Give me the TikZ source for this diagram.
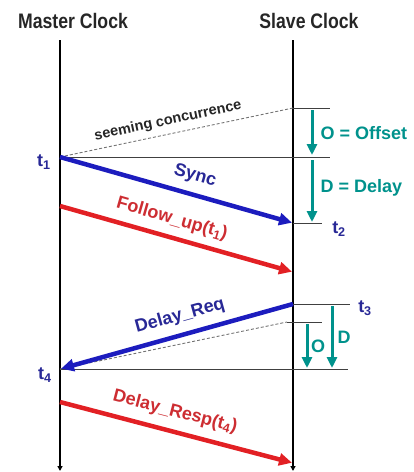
\documentclass[tikz,border=0pt]{standalone}
\usepackage{fontspec}
\setmainfont{Liberation Sans}
\newfontfamily\headfont[FakeStretch=0.84]{Liberation Sans}
\usetikzlibrary{arrows.meta}

\definecolor{msgblue}{RGB}{28,28,190}
\definecolor{msgred}{RGB}{226,32,36}
\definecolor{txtblue}{RGB}{40,40,150}
\definecolor{txtred}{RGB}{205,45,50}
\definecolor{teal}{RGB}{0,146,140}

\tikzset{
	clockline/.style = {line width=1.6pt, -{Triangle[length=5pt,width=5pt]}},
	bluemsg/.style = {line width=4.5pt, msgblue, -{Triangle[length=13pt,width=12pt]}, shorten >=1pt},
	redmsg/.style = {line width=4.5pt, msgred, -{Triangle[length=13pt,width=12pt]}, shorten >=1pt},
	tealarrow/.style = {line width=3pt, teal, -{Triangle[length=11pt,width=10pt]}},
	mark line/.style = {line width=.8pt, black!75},
	seemline/.style = {line width=.9pt, black!55, dash pattern=on 3pt off 2pt},
	headtxt/.style = {font=\headfont\bfseries\fontsize{21}{24}\selectfont, text=black!85},
	tlabel/.style = {text=txtblue},
}

\begin{document}
\begin{tikzpicture}[x=1pt, y=-1pt, font=\bfseries\fontsize{18}{20}\selectfont]
		\useasboundingbox (0,0) rectangle (414,472);
		
		% clocks
		\node[headtxt] (master) at (73,21) {Master Clock};
		\node[headtxt] (slave) at (309,21) {Slave Clock};
		
		\coordinate (mtop) at (60,40);
		\coordinate (mbot) at (60,471);
		\coordinate (stop) at (293,40);
		\coordinate (sbot) at (293,471);
		
		\draw[clockline] (mtop) -- (mbot);
		\draw[clockline] (stop) -- (sbot);
		
		% time points
		\coordinate (t1) at (60,157);
		\coordinate (seem) at (293,108);
		\coordinate (t2) at (293,223);
		\coordinate (fustart) at (60,206);
		\coordinate (fuend) at (293,272);
		\coordinate (t3) at (293,304);
		\coordinate (seem2) at (287,322);
		\coordinate (t4) at (60,369);
		\coordinate (drstart) at (60,402);
		\coordinate (drend) at (293,463);
		
		% marker lines
		\coordinate (seemend) at (330,108);
		\coordinate (t1end) at (330,157);
		\coordinate (t2end) at (322,223);
		\coordinate (t3end) at (350,304);
		\coordinate (seem2end) at (322,322);
		\coordinate (t4end) at (348,369);
		
		\draw[mark line] (seem) -- (seemend);
		\draw[mark line] (t1) -- (t1end);
		\draw[mark line] (t2) -- (t2end);
		\draw[mark line] (t3) -- (t3end);
		\draw[mark line] (seem2) -- (seem2end);
		\draw[mark line] (t4) -- (t4end);
		
		\draw[seemline] (t1) -- (seem);
		\draw[seemline] (t4) -- (seem2);
		
		% messages
		\draw[bluemsg] (t1) -- (t2);
		\draw[redmsg] (fustart) -- (fuend);
		\draw[bluemsg] (t3) -- (t4);
		\draw[redmsg] (drstart) -- (drend);
		
		\node[font=\bfseries\fontsize{14.5}{16}\selectfont, text=black!85, rotate=12] (seemtxt) at (168,121) {seeming concurrence};
		\node[text=txtblue, rotate=-16] (synctxt) at (195,176) {Sync};
		\node[text=txtred, rotate=-16] (futxt) at (172,219) {Follow\_up(t\textsubscript{1})};
		\node[text=txtblue, rotate=15.5] (dreqtxt) at (180,316) {Delay\_Req};
		\node[text=txtred, rotate=-14.5] (dresptxt) at (175,412) {Delay\_Resp(t\textsubscript{4})};
		
		\node[tlabel] (t1txt) at (44,162) {t\textsubscript{1}};
		\node[tlabel] (t2txt) at (339,229) {t\textsubscript{2}};
		\node[tlabel] (t3txt) at (365,308) {t\textsubscript{3}};
		\node[tlabel] (t4txt) at (45,375) {t\textsubscript{4}};
		
		% offset and delay
		\coordinate (oatop) at (312,110);
		\coordinate (oabot) at (312,155);
		\coordinate (datop) at (312,160);
		\coordinate (dabot) at (312,222);
		\coordinate (obtop) at (307,324);
		\coordinate (obbot) at (307,368);
		\coordinate (dbtop) at (332,306);
		\coordinate (dbbot) at (332,368);
		
		\draw[tealarrow] (oatop) -- (oabot);
		\draw[tealarrow] (datop) -- (dabot);
		\draw[tealarrow] (obtop) -- (obbot);
		\draw[tealarrow] (dbtop) -- (dbbot);
		
		\node[text=teal, anchor=west] (offtxt) at (317,133) {O = Offset};
		\node[text=teal, anchor=west] (deltxt) at (317,188) {D = Delay};
		\node[text=teal] (otxt) at (318,346) {O};
		\node[text=teal] (dtxt) at (344,337) {D};
		\end{tikzpicture}
\end{document}
